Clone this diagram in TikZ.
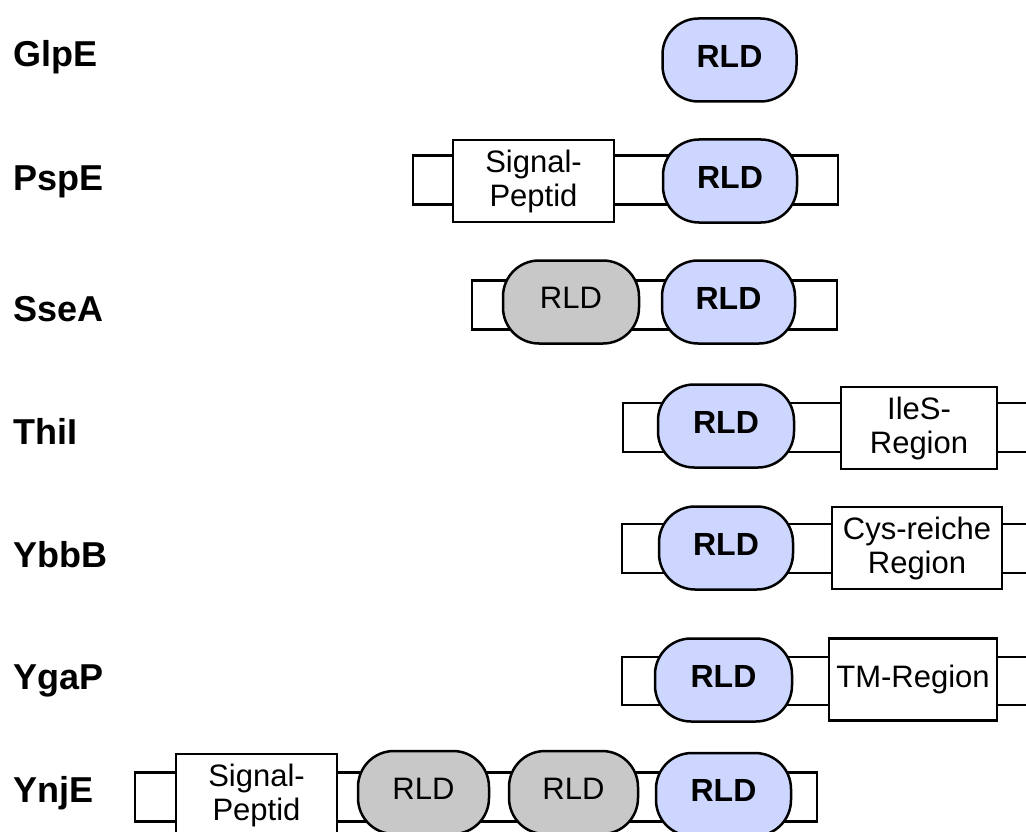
\documentclass[tikz,border=0pt]{standalone}
\usepackage{fontspec}
\setmainfont{Liberation Sans}
\definecolor{rldblue}{RGB}{204,214,255}
\definecolor{rldgray}{RGB}{200,200,200}
\begin{document}
\begin{tikzpicture}[x=1pt,y=-1pt,
  lw/.style={line width=2.5pt},
  backbone/.style={draw,lw,fill=white,rectangle,minimum height=49pt,inner sep=0pt},
  rld/.style={draw,lw,fill=rldblue,rounded corners=36pt,minimum height=83pt,minimum width=134pt,inner sep=0pt,text depth=8pt,font=\fontsize{32}{34}\selectfont\bfseries},
  grld/.style={rld,fill=rldgray,font=\fontsize{31}{34}\selectfont},
  region/.style={draw,lw,fill=white,minimum height=82pt,inner sep=0pt,align=center,font=\fontsize{31}{34}\selectfont},
  protlabel/.style={anchor=base west,inner sep=0pt,font=\fontsize{36}{40}\selectfont\bfseries}]
\useasboundingbox (0,0) rectangle (1026,832);
\clip (0,0) rectangle (1026,832);
% GlpE
\node[protlabel] (lGlpE) at (13,67) {GlpE};
\node[rld] (glpeR) at (729.5,60) {RLD};
% PspE
\node[protlabel] (lPspE) at (13,190) {PspE};
\node[backbone,minimum width=425pt] (pspeB) at (625.5,180) {};
\node[region,minimum width=161pt] (pspeS) at (533.5,181) {Signal-\\Peptid};
\node[rld] (pspeR) at (730,181) {RLD};
% SseA
\node[protlabel] (lSseA) at (13,321) {SseA};
\node[backbone,minimum width=365pt] (sseaB) at (654.5,305) {};
\node[grld,minimum width=136pt] (sseaG) at (571,302) {RLD};
\node[rld,minimum width=133pt] (sseaR) at (728.5,302) {RLD};
% ThiI
\node[protlabel] (lThiI) at (13,444) {ThiI};
\coordinate (thiiT) at (1040,403);
\coordinate (thiiL) at (623,452);
\coordinate (thiiE) at (1040,452);
\draw[lw,fill=white] (thiiT) -| (thiiL) -- (thiiE);
\node[rld,minimum width=136pt] (thiiR) at (726,426) {RLD};
\node[region,minimum width=156pt] (thiiS) at (919,428) {IleS-\\Region};
% YbbB
\node[protlabel] (lYbbB) at (13,567) {YbbB};
\coordinate (ybbbT) at (1040,524);
\coordinate (ybbbL) at (622,573);
\coordinate (ybbbE) at (1040,573);
\draw[lw,fill=white] (ybbbT) -| (ybbbL) -- (ybbbE);
\node[rld] (ybbbR) at (726,548) {RLD};
\node[region,minimum width=170pt] (ybbbS) at (917,548) {Cys-reiche\\Region};
% YgaP
\node[protlabel] (lYgaP) at (13,689) {YgaP};
\coordinate (ygapT) at (1040,657);
\coordinate (ygapL) at (622,705);
\coordinate (ygapE) at (1040,705);
\draw[lw,fill=white] (ygapT) -| (ygapL) -- (ygapE);
\node[rld,minimum width=137pt] (ygapR) at (723.5,680) {RLD};
\node[region,minimum width=168pt] (ygapS) at (913,679.5) {TM-Region};
% YnjE
\node[protlabel] (lYnjE) at (13,802) {YnjE};
\node[backbone,minimum width=682pt] (ynjeB) at (476,797) {};
\node[region,minimum width=161pt,minimum height=83pt] (ynjeS) at (256.5,795.5) {Signal-\\Peptid};
\node[grld,minimum width=131pt] (ynjeG1) at (423.5,792.5) {RLD};
\node[grld,minimum width=129pt] (ynjeG2) at (573.5,792.5) {RLD};
\node[rld,minimum width=135pt] (ynjeR) at (723.5,794.5) {RLD};
\end{tikzpicture}
\end{document}
